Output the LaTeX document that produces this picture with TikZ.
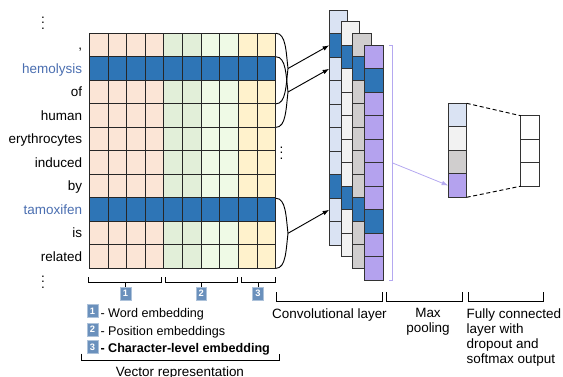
\documentclass[tikz,border=0pt]{standalone}
\usepackage{fontspec}
\setmainfont{Liberation Sans}
\usetikzlibrary{arrows.meta}
\definecolor{peach}{HTML}{FBE5D6}
\definecolor{greenA}{HTML}{E2EFD9}
\definecolor{greenB}{HTML}{EFFAE6}
\definecolor{wheat}{HTML}{FFF2CC}
\definecolor{cblue}{HTML}{2E75B6}
\definecolor{convA}{HTML}{DAE3F3}
\definecolor{convB}{HTML}{F2F2F2}
\definecolor{convC}{HTML}{D0CECE}
\definecolor{convD}{HTML}{B4A2EE}
\definecolor{wordblue}{HTML}{4A6EB0}
\definecolor{iconblue}{HTML}{6A90BC}
\definecolor{lav}{HTML}{B4A8F0}
\begin{document}
\begin{tikzpicture}[x=0.75pt,y=-0.75pt,line width=0.7pt,
  every node/.style={inner sep=0pt,outer sep=0pt},
  lbl/.style={font=\fontsize{10.1}{11.25}\selectfont},
  lgd/.style={font=\fontsize{9.45}{11}\selectfont},
  cell/.style={draw=black!80,minimum width=13.8pt,minimum height=17.6pt},
  badge/.style={fill=iconblue,draw=iconblue!55,line width=0.4pt,text=white,
    minimum width=8pt,minimum height=9.6pt,font=\fontsize{7}{7}\bfseries\selectfont},
  feed/.style={-{Latex[length=5pt,width=3.5pt]}}]
\useasboundingbox (0,0) rectangle (563,376);
\foreach \c/\col in {0/peach,1/peach,2/peach,3/peach,4/greenA,5/greenA,6/greenB,7/greenB,8/wheat,9/wheat}
  \fill[\col] ({89.3+18.64*\c},33.3) rectangle +(18.64,235);
\foreach \r in {1,7}
  \fill[cblue] (89.3,{33.3+23.5*\r}) rectangle +(186.4,23.5);
\foreach \c in {0,...,10}
  \draw[black!85,line width=0.6pt] ({89.3+18.64*\c},33.3) -- +(0,235);
\foreach \r in {0,...,10}
  \draw[black!85,line width=0.6pt] (89.3,{33.3+23.5*\r}) -- +(186.4,0);
\foreach \w [count=\i from 0] in {{,},\textcolor{wordblue}{hemolysis},of,human,erythrocytes,induced,by,\textcolor{wordblue}{tamoxifen},is,related}
  \node[lbl,anchor=base east] (w\i) at (82,{49.95+23.5*\i}) {\w};
\node[lbl] (dtop) at (43,19) {$\vdots$};
\node[lbl] (dbot) at (43,278) {$\vdots$};
\node[lbl] (dmid) at (281.5,149) {$\vdots$};
\draw (276,33.3) .. controls (286,33.3) and (286,52) .. (288,68.5) coordinate (b1)
  .. controls (286,85) and (286,103.8) .. (276,103.8);
\draw (276,56.8) .. controls (286,56.8) and (286,75.5) .. (288,92) coordinate (b2)
  .. controls (286,108.5) and (286,127.3) .. (276,127.3);
\draw (276,198.3) .. controls (286,198.3) and (286,217) .. (288,233.3) coordinate (b3)
  .. controls (286,249.5) and (286,268.3) .. (276,268.3);
\foreach \k/\col in {1/convA,2/convB,3/convC,4/convD}{
  \foreach \r in {1,...,10}
    \node[cell,fill=\col] (k\k-\r) at ({338.5+11.8*(\k-1)},{-13.42+11.67*\k+23.5*\r}) {};
  \foreach \r in {2,8}
    \node[cell,fill=cblue] at (k\k-\r) {};
}
\draw[feed] (b1) -- (k1-2.west);
\draw[feed] (b2) -- (k1-3.west);
\draw[feed] (b3) -- (k1-9.west);
\draw[lav,line width=0.6pt] (389,45) -- (392.7,45) -- (392.7,280) -- (389,280);
\coordinate (pm) at (392.7,163);
\foreach \col [count=\i] in {convA,convB,convC,convD}
  \node[cell,fill=\col] (m\i) at (457.5,{91.55+23.5*\i}) {};
\foreach \i in {1,2,3}
  \node[cell,fill=white] (f\i) at (529.9,{103.95+23.5*\i}) {};
\draw[lav,line width=0.6pt,feed] (pm) -- (m4.west);
\draw[dash pattern=on 3pt off 2pt] (m1.north east) -- (f1.north west);
\draw[dash pattern=on 3pt off 2pt] (m4.south east) -- (f3.south west);
\node[badge,anchor=north] (n1) at (125.5,287) {1};
\node[badge,anchor=north] (n2) at (201.2,287) {2};
\node[badge,anchor=north] (n3) at (258,287) {3};
\draw (88.8,277) |- (161.3,282.5) -- (161.3,277);
\draw (165,277) |- (237.3,282.5) -- (237.3,277);
\draw (241,277) |- (275,282.5) -- (275,277);
\draw (n1.north) -- ++(0,-4.5);
\draw (n2.north) -- ++(0,-4.5);
\draw (n3.north) -- ++(0,-4.5);
\node[badge] (l1) at (92.5,311) {1};
\node[badge] (l2) at (92.5,329.5) {2};
\node[badge] (l3) at (92.5,347) {3};
\node[lgd,anchor=base west] (t1) at (100.5,317) {- Word embedding};
\node[lgd,anchor=base west] (t2) at (100.5,335) {- Position embeddings};
\node[lgd,anchor=base west,font=\fontsize{9.45}{11}\bfseries\selectfont] (t3) at (100.5,352) {- Character-level embedding};
\draw (81,353.5) |- (279,360) -- (279,353.5);
\node[lbl,anchor=base] (vr) at (180,376) {Vector representation};
\draw (276.7,292.3) |- (382.3,301.5) -- (382.3,292.3);
\draw (386.7,292.3) |- (462.7,301.5) -- (462.7,292.3);
\draw (468.3,292.3) |- (543.3,301.5) -- (543.3,292.3);
\node[lbl,anchor=base] (conv) at (329.5,318) {Convolutional layer};
\node[lbl,align=center,anchor=north] (pool) at (428,308.3) {Max\\pooling};
\node[lbl,align=left,anchor=north west] (fc) at (466.7,308.3) {Fully connected\\layer with\\dropout and\\softmax output};
\end{tikzpicture}
\end{document}
